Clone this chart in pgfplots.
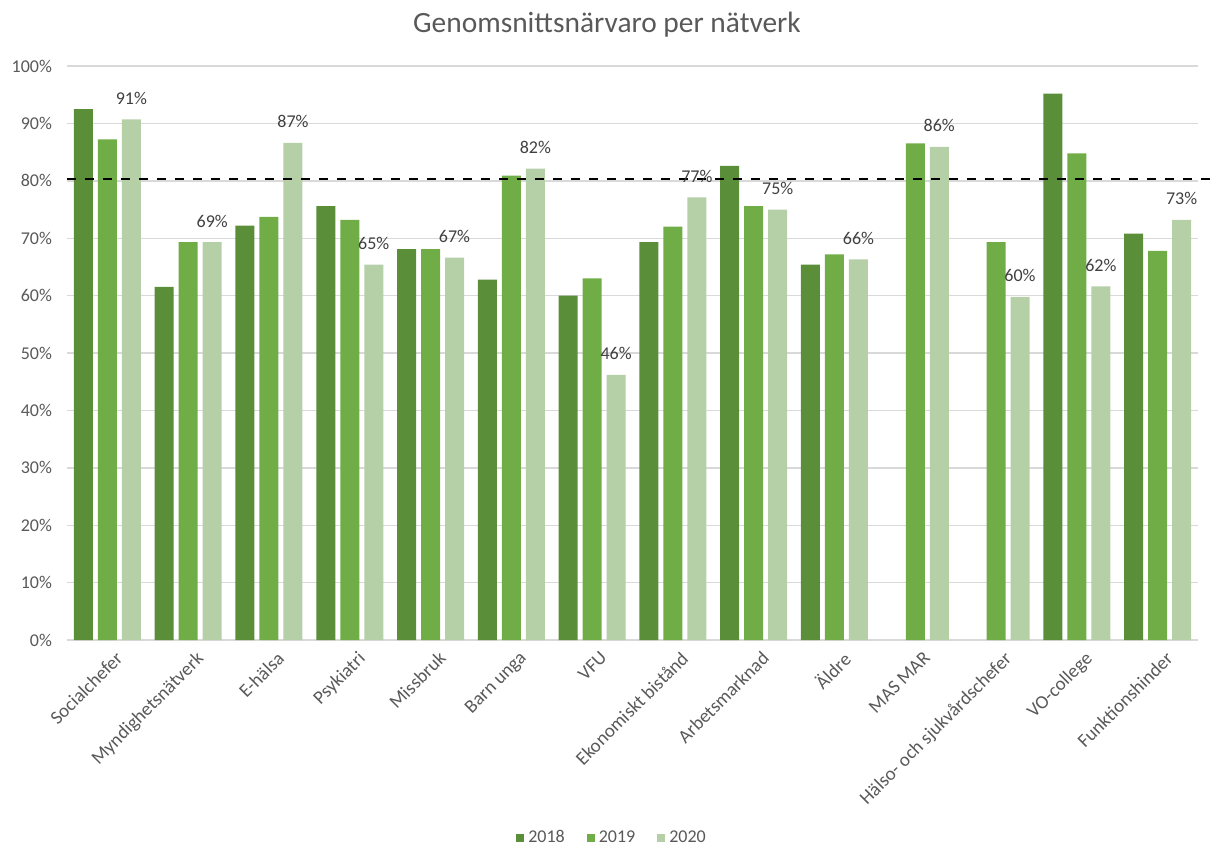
\documentclass[border=0pt]{standalone}
\usepackage{fontspec}
\setmainfont{Carlito}
\usepackage{pgfplots}
\pgfplotsset{compat=1.18}
\definecolor{c18}{RGB}{91,142,57}
\definecolor{c19}{RGB}{112,173,71}
\definecolor{c20}{RGB}{181,207,167}
\definecolor{txt}{RGB}{89,89,89}
\definecolor{lbl}{RGB}{64,64,64}
\definecolor{gridc}{RGB}{217,217,217}
\begin{document}
\begin{tikzpicture}
\begin{axis}[
  at={(0pt,0pt)}, anchor=south west,
  scale only axis,
  width=565.5pt, height=287pt,
  xmin=-0.5, xmax=13.5, ymin=0, ymax=100,
  ybar=2.5pt, bar width=9.5pt,
  clip=false,
  xtick={0,...,13},
  xticklabels={Socialchefer, Myndighetsnätverk, E-hälsa, Psykiatri, Missbruk, Barn unga, VFU, Ekonomiskt bistånd, Arbetsmarknad, Äldre, MAS MAR, Hälso- och sjukvårdschefer, VO-college, Funktionshinder},
  ytick={0,10,...,100},
  yticklabel={\pgfmathprintnumber{\tick}\%},
  /pgf/number format/assume math mode=true,
  ymajorgrids, grid style={gridc, line width=0.7pt},
  separate axis lines,
  axis x line*=bottom, axis y line*=left,
  x axis line style={gridc, line width=0.7pt, -},
  y axis line style={draw=none},
  major tick length=0pt, tick style={draw=none},
  ticklabel style={font=\fontsize{9}{10}\selectfont, text=txt},
  yticklabel style={xshift=-4pt},
  xticklabel style={rotate=45, anchor=north east, inner sep=2pt,
    font=\fontsize{9.5}{10}\selectfont, yshift=-4pt, xshift=1pt},
  legend style={at={(0.4828,-0.345)}, anchor=center, legend columns=3, draw=none,
    font=\fontsize{9}{10}\selectfont, text=txt,
    /tikz/every even column/.append style={column sep=9pt}},
  legend image code/.code={\path[#1,draw=none] (0pt,-2pt) rectangle (4pt,2pt);},
]
\addplot[fill=c18, draw=none] coordinates {
  (0,92.5) (1,61.5) (2,72.2) (3,75.6) (4,68.1) (5,62.8) (6,60.0)
  (7,69.3) (8,82.6) (9,65.4) (12,95.2) (13,70.8)};
\addplot[fill=c19, draw=none] coordinates {
  (0,87.2) (1,69.3) (2,73.7) (3,73.2) (4,68.1) (5,80.9) (6,63.0)
  (7,72.0) (8,75.6) (9,67.2) (10,86.5) (11,69.3) (12,84.8) (13,67.8)};
\addplot[fill=c20, draw=none,
  nodes near coords={\pgfmathprintnumber[fixed,precision=0]{\pgfplotspointmeta}\%},
  nodes near coords style={font=\fontsize{9}{10}\selectfont, text=lbl, yshift=4pt}]
  coordinates {
  (0,90.7) (1,69.3) (2,86.6) (3,65.4) (4,66.6) (5,82.1) (6,46.2)
  (7,77.1) (8,75.0) (9,66.3) (10,85.9) (11,59.8) (12,61.6) (13,73.2)};
\legend{2018,2019,2020}
\draw[black, line width=1.2pt, dash pattern=on 4.5pt off 4.5pt]
  (axis cs:-0.5,80.3) -- (axis cs:13.69,80.3);
\end{axis}
\node[font=\fontsize{14.7}{17}\selectfont, text=txt] at (270pt,307.5pt) {Genomsnittsnärvaro per nätverk};
\pgfresetboundingbox
\path[use as bounding box] (-33.5pt,-103.5pt) rectangle (573pt,320pt);
\end{tikzpicture}
\end{document}
